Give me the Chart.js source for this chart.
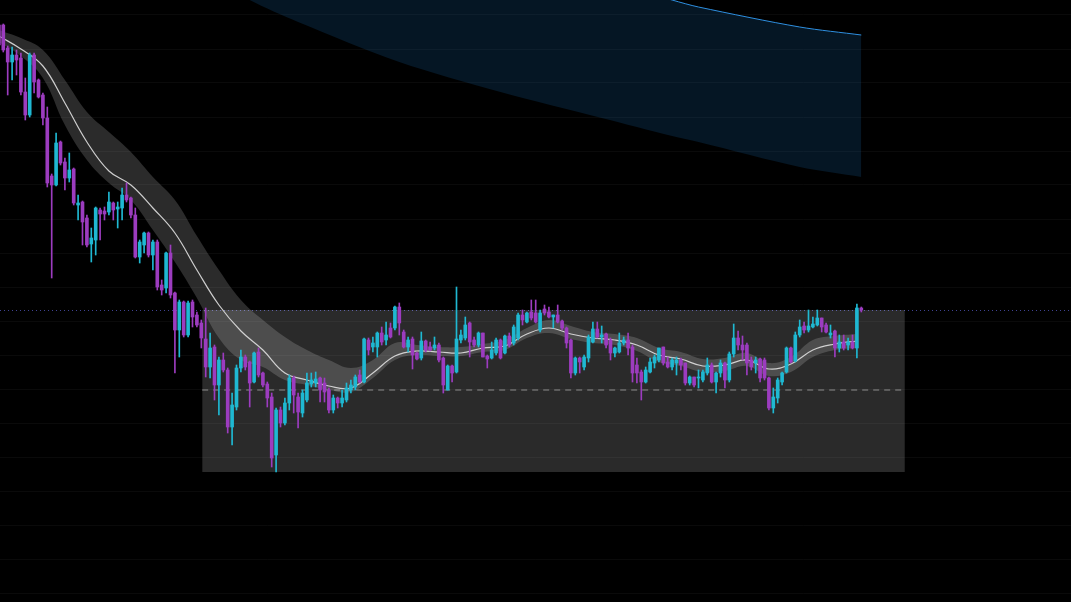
<!DOCTYPE html>
<html>
<head>
<meta charset="utf-8">
<title>Price chart</title>
<style>
  html, body { margin: 0; padding: 0; background: #000; overflow: hidden; }
  #chart { display: block; }
</style>
<script src="https://cdn.jsdelivr.net/npm/chart.js@4.4.1/dist/chart.umd.min.js"></script>
</head>
<body>
<canvas id="chart" width="1071" height="602"></canvas>
<script>
// candles, oldest first
var opens = [
  577,577,554,540,547,544,510,487,547,522,
  507,484,426,417,460,440,424,433,397,400,
  384,358,362,392,391,390,399,393,394,407,
  404,387,345,357,369,347,360,317,314,349,
  309,272,300,267,300,287,279,263,235,255,
  217,242,232,175,195,234,245,240,220,250,
  229,218,205,147,192,179,199,224,205,189,
  202,218,219,224,219,212,192,204,199,202,
  212,215,227,220,262,255,255,269,262,274,
  274,295,270,255,263,249,244,261,255,254,
  257,244,212,236,230,262,264,279,262,257,
  269,246,244,249,262,249,266,259,264,287,
  280,290,289,272,293,290,285,287,281,274,
  262,229,244,235,244,260,273,265,268,262,
  249,250,259,262,255,237,230,220,230,239,
  242,255,240,235,239,242,239,219,225,224,
  222,229,237,220,229,239,222,248,264,257,
  257,242,239,243,242,224,194,204,220,230,
  254,241,267,276,272,275,277,284,277,267,
  271,254,260,257,260,254,294
];
var highs = [
  582,578,556,555,552,549,524,549,549,523,
  509,495,428,469,461,444,449,434,407,401,
  387,374,395,394,395,410,400,400,414,419,
  405,394,362,370,370,362,362,322,350,357,
  310,302,301,301,302,290,282,294,269,257,
  245,249,234,209,237,252,247,241,250,254,
  230,220,209,194,195,204,227,226,209,212,
  229,229,230,225,224,214,207,205,212,219,
  222,227,232,264,264,265,270,275,280,279,
  296,299,272,265,265,250,270,262,260,265,
  259,245,237,237,315,272,285,280,265,270,
  269,247,260,264,263,267,269,277,289,292,
  290,302,302,292,297,295,287,297,282,275,
  263,245,245,247,267,280,280,276,269,264,
  255,269,265,269,257,244,232,235,244,247,
  254,255,245,244,245,244,239,226,225,232,
  232,244,239,230,242,240,250,278,271,266,
  259,245,245,244,244,225,214,224,230,255,
  255,270,282,280,292,285,292,284,279,277,
  272,267,267,264,267,298,295
];
var lows = [
  554,550,507,522,527,507,482,485,509,504,
  477,415,324,416,437,412,420,397,382,357,
  355,340,347,362,382,387,382,374,382,400,
  384,344,339,349,345,332,312,307,309,304,
  229,245,265,265,275,275,254,225,224,202,
  187,230,169,157,192,230,232,195,219,225,
  215,195,135,130,175,177,192,189,174,185,
  200,215,215,200,200,189,189,194,195,200,
  209,212,219,219,247,250,245,257,257,264,
  272,267,254,250,233,242,242,250,251,252,
  240,209,212,220,229,259,262,245,255,255,
  245,234,243,247,243,248,255,257,262,277,
  279,282,279,270,287,284,274,279,272,254,
  224,227,229,232,240,259,264,259,254,242,
  245,249,257,247,220,219,202,219,229,234,
  240,237,234,232,227,232,217,217,215,214,
  220,227,219,209,225,214,220,245,252,242,
  227,232,229,220,222,192,189,199,217,229,
  239,240,265,269,270,274,276,270,269,264,
  245,250,252,252,253,244,290
];
var closes = [
  557,552,540,547,542,510,487,547,520,505,
  484,419,417,459,439,424,432,399,399,380,
  357,364,394,388,388,400,392,395,407,402,
  387,345,360,369,347,360,315,312,349,307,
  272,300,267,299,285,277,264,235,254,217,
  242,232,175,197,234,245,235,219,249,227,
  217,204,144,192,179,199,224,207,190,209,
  219,222,223,212,210,192,204,199,204,214,
  217,225,220,263,252,259,269,260,267,265,
  295,279,255,262,247,243,261,252,252,257,
  242,217,236,229,263,267,277,260,257,269,
  245,243,252,262,244,266,257,275,287,282,
  289,284,280,289,289,285,287,280,274,259,
  229,244,240,245,265,273,265,267,257,249,
  254,259,262,254,229,229,220,232,240,245,
  254,239,235,242,242,237,219,225,217,225,
  230,237,220,229,239,222,248,264,257,252,
  239,235,242,224,224,194,205,222,229,254,
  240,267,275,272,276,278,284,275,270,269,
  254,260,254,260,254,294,292
];

// moving average ribbon, read every 5th candle
var maIndex = [0,5,10,15,20,25,30,35,40,45,50,55,60,65,70,75,80,85,90,95,
               100,105,110,115,120,125,130,135,140,145,150,155,160,165,170,175,180,185,190,195];
var maMid   = [566,553,536,499,460,431,417,394,369,332,297,271,252,229,222,216,214,229,246,251,
               250,249,254,256,268,274,268,264,262,257,247,243,236,237,242,233,238,252,258,261];
var maUpper = [572,564,552,522,490,470,450,425,402,366,332,302,282,265,252,242,234,242,259,257,
               255,255,258,262,274,282,276,270,268,264,254,250,243,244,249,239,245,262,266,268];
var maLower = [560,546,524,477,442,419,402,372,340,304,264,242,235,222,217,212,210,224,242,247,
               246,246,250,252,264,269,263,259,257,251,240,236,230,231,236,226,230,245,252,254];

// projection cone
var coneIndex = [45, 57, 68, 91, 114, 137, 153, 159, 182, 196];
var coneUpper = [765, 745, 728, 690, 655, 622, 602, 595, 575, 567];
var coneLower = [632, 602, 580, 540, 510, 484, 466, 460, 435, 425];

// range box and levels
var boxRange = [46.2, 205.9];
var boxTop = 292;
var boxBottom = 130;
var midLevel = 212;
var ceilingLevel = 292;
var gridLevels = [587,553,519,485,451,417,383,349,315,281,247,213,179,145,111,77,43,9];

var UP = '#1fb8d2';
var DOWN = '#9c3cbf';

function pts(xs, ys) {
  return xs.map(function(x, i) { return {x: x, y: ys[i]}; });
}
function candleColor(ctx) {
  var i = ctx.dataIndex;
  return closes[i] >= opens[i] ? UP : DOWN;
}

var wickData = opens.map(function(o, i) { return {x: i, y: [lows[i], highs[i]]}; });
var bodyData = opens.map(function(o, i) { return {x: i, y: [opens[i], closes[i]]}; });

// dotted level across the whole plot
var levelLine = {
  id: 'levelLine',
  beforeDatasetsDraw: function(chart) {
    var ctx = chart.ctx, area = chart.chartArea;
    var y = Math.round(chart.scales.y.getPixelForValue(ceilingLevel)) + 0.5;
    ctx.save();
    ctx.strokeStyle = 'rgba(85,90,195,0.75)';
    ctx.lineWidth = 1;
    ctx.setLineDash([1, 3]);
    ctx.beginPath();
    ctx.moveTo(area.left, y);
    ctx.lineTo(area.right, y);
    ctx.stroke();
    ctx.restore();
  }
};

new Chart(document.getElementById('chart').getContext('2d'), {
  type: 'bar',
  data: {
    datasets: [
      {
        label: 'body',
        data: bodyData,
        backgroundColor: candleColor,
        barThickness: 3,
        minBarLength: 1,
        grouped: false,
        order: 0
      },
      {
        label: 'wick',
        data: wickData,
        backgroundColor: candleColor,
        barThickness: 1,
        grouped: false,
        order: 0
      },
      {
        type: 'line',
        label: 'ma',
        data: pts(maIndex, maMid),
        borderColor: 'rgba(215,215,215,0.95)',
        borderWidth: 1.2,
        pointRadius: 0,
        tension: 0.4,
        fill: false,
        order: 1
      },
      {
        type: 'line',
        label: 'ribbon top',
        data: pts(maIndex, maUpper),
        borderWidth: 0,
        pointRadius: 0,
        tension: 0.4,
        fill: '+1',
        backgroundColor: 'rgba(255,255,255,0.17)',
        order: 2
      },
      {
        type: 'line',
        label: 'ribbon bottom',
        data: pts(maIndex, maLower),
        borderWidth: 0,
        pointRadius: 0,
        tension: 0.4,
        fill: false,
        order: 2
      },
      {
        type: 'line',
        label: 'mid',
        data: pts(boxRange, [midLevel, midLevel]),
        borderColor: '#8c8c8c',
        borderWidth: 1,
        borderDash: [6, 5],
        pointRadius: 0,
        fill: false,
        order: 3
      },
      {
        type: 'line',
        label: 'range',
        data: pts(boxRange, [boxTop, boxTop]),
        borderWidth: 0,
        pointRadius: 0,
        fill: {value: boxBottom},
        backgroundColor: 'rgba(255,255,255,0.165)',
        order: 4
      },
      {
        type: 'line',
        label: 'cone top',
        data: pts(coneIndex, coneUpper),
        borderColor: '#2e8fe0',
        borderWidth: 1,
        pointRadius: 0,
        tension: 0.3,
        fill: '+1',
        backgroundColor: 'rgba(25,110,180,0.2)',
        order: 5
      },
      {
        type: 'line',
        label: 'cone bottom',
        data: pts(coneIndex, coneLower),
        borderWidth: 0,
        pointRadius: 0,
        tension: 0.3,
        fill: false,
        order: 5
      }
    ]
  },
  options: {
    responsive: false,
    animation: false,
    layout: { padding: 0 },
    plugins: {
      legend: { display: false },
      tooltip: { enabled: false }
    },
    scales: {
      x: {
        type: 'linear',
        min: 0.25,
        max: 243.66,
        offset: false,
        display: false
      },
      y: {
        min: 0,
        max: 602,
        border: { display: false },
        grid: { color: 'rgba(255,255,255,0.04)', drawTicks: false },
        ticks: { display: false },
        afterBuildTicks: function(scale) {
          scale.ticks = gridLevels.map(function(v) { return {value: v}; });
        }
      }
    }
  },
  plugins: [levelLine]
});
</script>
</body>
</html>
